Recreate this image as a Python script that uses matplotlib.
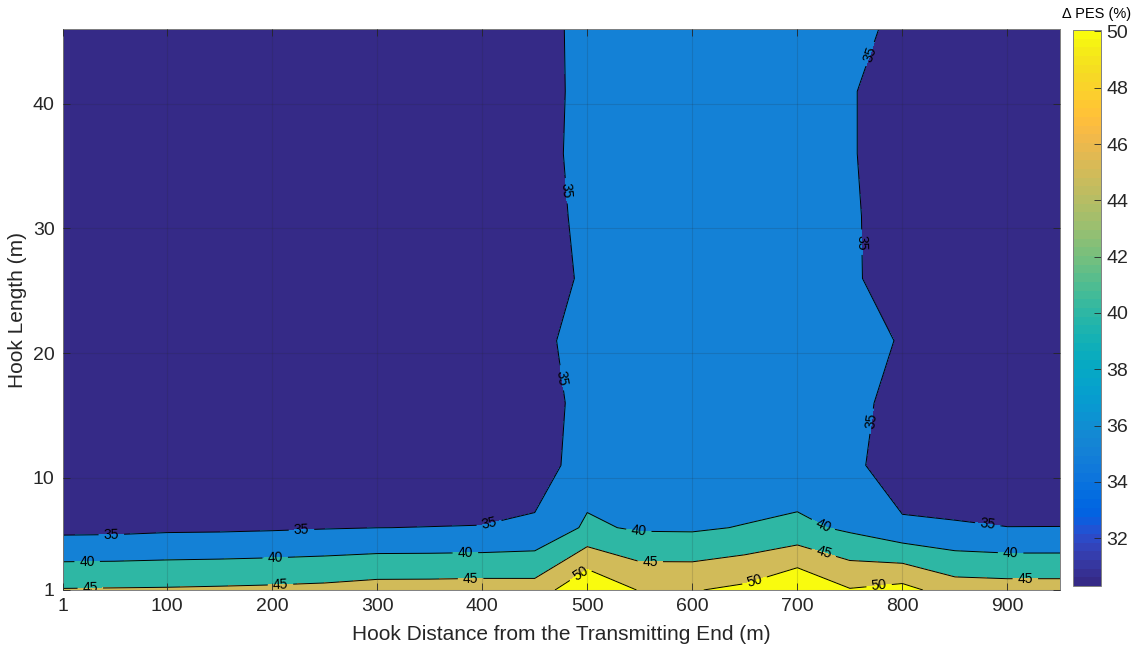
import numpy as np
import matplotlib
matplotlib.use('Agg')
import matplotlib.pyplot as plt
from matplotlib.colors import ListedColormap, Normalize
from matplotlib.cm import ScalarMappable

# grid of hook positions (m) and hook lengths (m)
hook_dist = [1, 50, 100, 150, 200, 250, 300, 350, 400, 450,
             500, 550, 600, 650, 700, 750, 800, 850, 900, 950]
hook_len = [1, 6, 11, 16, 21, 26, 31, 36, 41, 46]

# delta PES (%) , one row per hook length
pes_l1 = [45.3, 45.4, 45.5, 45.7, 45.94, 46.3, 47.06, 47.1, 47.25, 47.1,
          54.6, 49.7, 49.7, 51.1, 54.9, 50.3, 51.6, 47.5, 47.2, 47.2]
pes_l6 = [33.6, 33.7, 34.1, 34.2, 34.44, 34.75, 34.98, 35.05, 35.17, 35.8,
          40.8, 39.4, 39.3, 40.3, 41.2, 39.1, 36.2, 35.6, 35.05, 35.06]
pes_l11 = [31.0, 31.1, 31.3, 31.2, 31.4, 31.5, 31.3, 32.0, 31.0, 32.5,
           37.5, 37.6, 37.0, 35.3, 36.5, 36.9, 30.6, 30.6, 31.9, 32.0]
pes_l16 = [30.8, 30.9, 31.0, 31.1, 31.0, 31.2, 31.3, 31.2, 31.4, 31.8,
           37.3, 37.0, 36.8, 36.5, 36.8, 37.56, 32.0, 31.0, 30.8, 30.7]
pes_l21 = [30.7, 30.8, 30.9, 31.0, 30.9, 31.1, 31.2, 31.3, 31.6, 32.5,
           38.5, 37.5, 37.2, 37.0, 37.2, 37.6, 34.5, 31.5, 30.9, 30.6]
pes_l26 = [30.6, 30.7, 30.8, 30.9, 30.8, 31.0, 31.1, 31.2, 31.0, 31.0,
           36.3, 36.8, 36.9, 36.7, 36.5, 36.1, 31.5, 30.9, 30.7, 30.5]
pes_l31 = [30.5, 30.6, 30.7, 30.8, 30.8, 30.9, 31.0, 31.1, 31.2, 31.5,
           37.0, 36.8, 36.8, 36.7, 36.6, 35.99, 31.5, 30.9, 30.6, 30.5]
pes_l36 = [30.5, 30.5, 30.6, 30.7, 30.7, 30.8, 30.9, 31.0, 31.3, 32.0,
           37.5, 37.0, 36.9, 36.8, 36.6, 35.57, 31.5, 30.8, 30.6, 30.4]
pes_l41 = [30.4, 30.5, 30.6, 30.6, 30.7, 30.8, 30.9, 31.0, 31.2, 31.8,
           37.3, 37.0, 36.9, 36.8, 36.7, 35.57, 31.5, 30.8, 30.5, 30.4]
pes_l46 = [30.4, 30.4, 30.5, 30.6, 30.6, 30.7, 30.8, 30.9, 31.2, 31.9,
           37.4, 37.1, 37.0, 36.9, 36.8, 37.44, 33.0, 31.0, 30.5, 30.3]

levels = [35, 40, 45, 50]
clim = (30.3, 50.05)

# matlab parula (64)
parula = [
    [0.2081, 0.1663, 0.5292], [0.2116, 0.1898, 0.5777], [0.2123, 0.2138, 0.6270],
    [0.2081, 0.2386, 0.6771], [0.1959, 0.2645, 0.7279], [0.1707, 0.2919, 0.7792],
    [0.1253, 0.3242, 0.8303], [0.0591, 0.3598, 0.8683], [0.0117, 0.3875, 0.8820],
    [0.0060, 0.4086, 0.8828], [0.0165, 0.4266, 0.8786], [0.0329, 0.4430, 0.8720],
    [0.0498, 0.4586, 0.8641], [0.0629, 0.4737, 0.8554], [0.0723, 0.4887, 0.8467],
    [0.0779, 0.5040, 0.8384], [0.0793, 0.5200, 0.8312], [0.0749, 0.5375, 0.8263],
    [0.0641, 0.5570, 0.8240], [0.0488, 0.5772, 0.8228], [0.0343, 0.5966, 0.8199],
    [0.0265, 0.6137, 0.8135], [0.0239, 0.6287, 0.8038], [0.0231, 0.6418, 0.7913],
    [0.0228, 0.6535, 0.7768], [0.0267, 0.6642, 0.7607], [0.0384, 0.6743, 0.7436],
    [0.0590, 0.6838, 0.7254], [0.0843, 0.6928, 0.7062], [0.1133, 0.7015, 0.6859],
    [0.1453, 0.7098, 0.6646], [0.1801, 0.7177, 0.6424], [0.2178, 0.7250, 0.6193],
    [0.2586, 0.7317, 0.5954], [0.3022, 0.7376, 0.5712], [0.3482, 0.7424, 0.5473],
    [0.3953, 0.7459, 0.5244], [0.4420, 0.7481, 0.5033], [0.4871, 0.7491, 0.4840],
    [0.5300, 0.7491, 0.4661], [0.5709, 0.7485, 0.4494], [0.6099, 0.7473, 0.4337],
    [0.6473, 0.7456, 0.4188], [0.6834, 0.7435, 0.4044], [0.7184, 0.7411, 0.3905],
    [0.7525, 0.7384, 0.3768], [0.7858, 0.7356, 0.3633], [0.8185, 0.7327, 0.3498],
    [0.8507, 0.7299, 0.3360], [0.8824, 0.7274, 0.3217], [0.9139, 0.7258, 0.3063],
    [0.9450, 0.7261, 0.2886], [0.9739, 0.7314, 0.2666], [0.9938, 0.7455, 0.2403],
    [0.9990, 0.7653, 0.2164], [0.9955, 0.7861, 0.1967], [0.9880, 0.8066, 0.1794],
    [0.9789, 0.8271, 0.1633], [0.9697, 0.8481, 0.1475], [0.9626, 0.8705, 0.1309],
    [0.9589, 0.8949, 0.1132], [0.9598, 0.9218, 0.0948], [0.9661, 0.9514, 0.0755],
    [0.9763, 0.9831, 0.0538]]
cmap = ListedColormap(parula)
norm = Normalize(*clim)

X, Y = np.meshgrid(hook_dist, hook_len)
Z = np.array([pes_l1, pes_l6, pes_l11, pes_l16, pes_l21,
              pes_l26, pes_l31, pes_l36, pes_l41, pes_l46])

txt = '#262626'
plt.rcParams['font.family'] = ['Liberation Sans', 'DejaVu Sans']

fig = plt.figure(figsize=(11.35, 6.53), dpi=100)
ax = fig.add_axes([63/1135, 63/653, 997/1135, 561/653])

# each band gets the colour of its lower edge, like matlab
bounds = [Z.min() - 1] + levels + [Z.max() + 1]
fill_cols = [cmap(norm(clim[0]))] + [cmap(norm(v)) for v in levels]
ax.contourf(X, Y, Z, levels=bounds, colors=fill_cols)
cs = ax.contour(X, Y, Z, levels=levels, colors='k', linewidths=0.7)

lab_pos = [(47, 5.45), (228, 5.8), (407, 6.2), (476, 33), (474, 18),
           (772, 43.9), (762, 28.9), (774, 14.5), (881, 6.1),
           (24, 3.3), (203, 3.55), (384, 3.95), (549, 5.7), (724, 6.1), (903, 4.0),
           (27, 1.1), (208, 1.4), (389, 1.85), (560, 3.35), (726, 4.2), (917, 1.9),
           (493, 2.4), (660, 1.55), (778, 1.2)]
ax.clabel(cs, manual=lab_pos, fontsize=10, inline=True, fmt='%d')

ax.set_xlim(1, 950)
ax.set_ylim(1, 46)
ax.set_xticks([1, 100, 200, 300, 400, 500, 600, 700, 800, 900])
ax.set_yticks([1, 10, 20, 30, 40])
ax.tick_params(direction='in', top=True, right=True, length=5, width=0.6,
               colors=txt, labelsize=14, pad=6)
for s in ax.spines.values():
    s.set_color('#808080')
    s.set_linewidth(0.7)
ax.set_axisbelow(False)
ax.grid(True, color=txt, alpha=0.15, linewidth=0.8)
ax.set_xlabel('Hook Distance from the Transmitting End (m)', fontsize=15, color=txt, labelpad=7)
ax.set_ylabel('Hook Length (m)', fontsize=15, color=txt, labelpad=4)

cax = fig.add_axes([1073/1135, 67/653, 28/1135, 556/653])
cb = fig.colorbar(ScalarMappable(norm=norm, cmap=cmap), cax=cax)
cb.set_ticks([32, 34, 36, 38, 40, 42, 44, 46, 48, 50])
cb.ax.tick_params(direction='in', length=5, width=0.6, colors=txt, labelsize=14, pad=4)
cb.outline.set_edgecolor('#808080')
cb.outline.set_linewidth(0.7)
fig.text(1097/1135, 1 - 14/653, '\u0394 PES (%)', ha='center', va='center',
         fontsize=10.5, color='k')

fig.savefig('out.png', dpi=100)
